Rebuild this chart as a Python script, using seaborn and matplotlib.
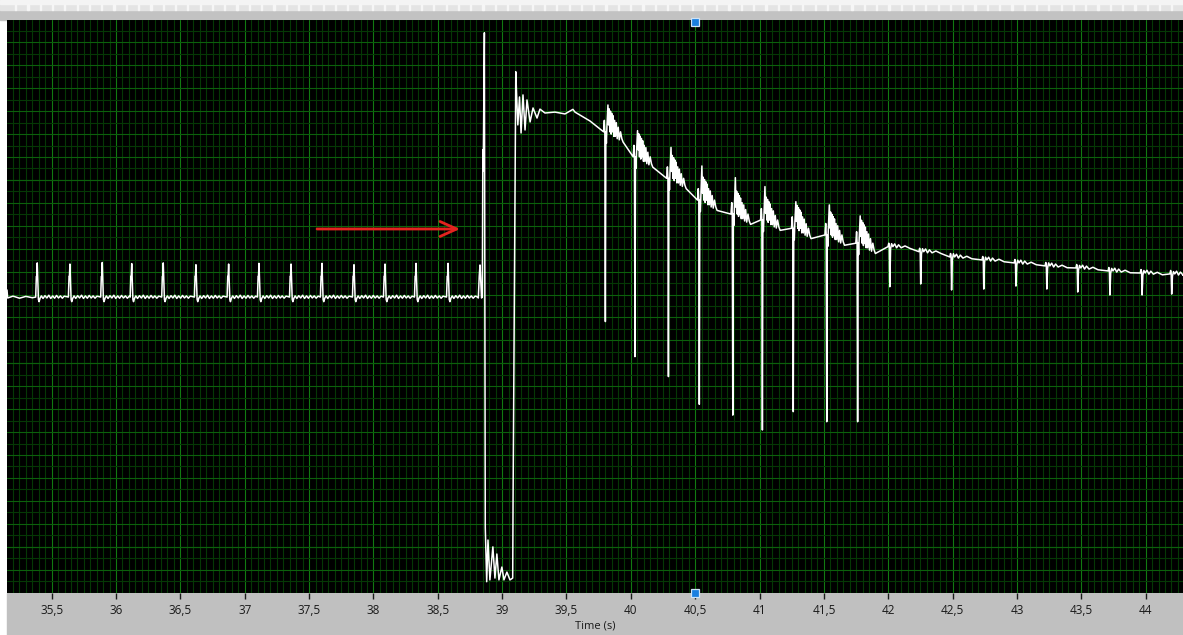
import numpy as np
import pandas as pd
import seaborn as sns
import matplotlib
matplotlib.use("Agg")
import matplotlib.pyplot as plt
from matplotlib.patches import Rectangle
from matplotlib.ticker import MultipleLocator, FixedLocator, FuncFormatter

# ---------------- data ----------------
# start of the trace
start_t = [35.153, 35.158, 35.20, 35.25, 35.30, 35.35]
start_v = [3.20, 2.85, 2.93, 2.84, 2.92, 2.86]

# regular beats before the event
reg_base = 2.89
reg_t = [35.388, 35.642, 35.893, 36.122, 36.367, 36.621, 36.875,
         37.111, 37.360, 37.600, 37.849, 38.090, 38.331, 38.580]
reg_peak = [4.38, 4.33, 4.40, 4.35, 4.38, 4.30, 4.33,
            4.36, 4.33, 4.36, 4.30, 4.33, 4.36, 4.36]
# beat shape (offset in s, value relative to baseline; "P" = peak)
reg_dt = [-0.012, -0.007, -0.004, 0.0, 0.005, 0.009, 0.014, 0.022, 0.032,
          0.045, 0.06, 0.075, 0.09, 0.105, 0.12, 0.135, 0.15, 0.165, 0.18,
          0.195, 0.21]
reg_dv = [0.0, 0.9, 0.9, "P", 0.6, -0.1, -0.2, -0.05, 0.05,
          -0.06, 0.06, -0.04, 0.08, -0.06, 0.05, -0.05, 0.07, -0.04, 0.05,
          -0.05, 0.04]

# the event
event_t = [38.800, 38.815, 38.822, 38.828, 38.834, 38.840, 38.846, 38.850,
           38.853, 38.862, 38.869, 38.880, 38.890, 38.905, 38.928, 38.944,
           38.959, 38.975, 38.998, 39.014, 39.037, 39.061, 39.082, 39.085,
           39.106, 39.114, 39.122, 39.135, 39.147, 39.162, 39.178, 39.193,
           39.217, 39.240, 39.271, 39.294, 39.333, 39.410, 39.488, 39.550,
           39.566, 39.683]
event_v = [2.92, 2.85, 3.80, 4.29, 3.60, 2.85, 2.90, 9.31,
           8.40, 14.42, -7.16, -9.53, -7.71, -9.45, -8.01, -9.37,
           -8.32, -9.45, -8.89, -9.45, -9.11, -9.45, -9.37, -5.88,
           12.72, 11.49, 10.40, 11.62, 10.05, 11.71, 10.18, 11.49,
           10.53, 11.14, 10.70, 11.09, 10.92, 10.96, 10.88, 11.08,
           10.96, 10.57]

# large beats after the event (down spike bottom, up spike top, local baseline)
big_t = [39.80, 40.03, 40.29, 40.53, 40.79, 41.02, 41.26, 41.52, 41.76]
big_bottom = [1.82, 0.29, -0.58, -1.79, -2.26, -2.91, -2.11, -2.55, -2.55]
big_top = [11.27, 10.15, 9.42, 8.61, 8.10, 7.71, 7.05, 6.91, 6.43]
big_base = [10.10, 9.01, 8.07, 7.12, 6.51, 6.25, 5.89, 5.60, 5.24]
big_dt = [-0.012, -0.006, -0.002, 0.002, 0.006, 0.010, 0.014, 0.022, 0.027,
          0.032, 0.037, 0.042, 0.047, 0.052, 0.057, 0.062, 0.068, 0.074,
          0.080, 0.087, 0.094, 0.102, 0.11, 0.12, 0.13, 0.14]
big_dv = [0.0, 0.5, 0.0, "B", 0.0, -0.5, 0.2, "T", 0.3,
          1.0, 0.0, 0.9, -0.1, 0.8, 0.0, 0.7, -0.2, 0.5,
          -0.2, 0.4, -0.3, 0.2, -0.35, 0.0, -0.3, -0.45]

# small beats at the end
small_t = [42.01, 42.25, 42.49, 42.74, 42.99, 43.23, 43.47, 43.72, 43.97, 44.20]
small_bottom = [3.34, 3.46, 3.20, 3.24, 3.37, 3.24, 3.11, 2.98, 2.98, 3.02]
small_top = [5.22, 5.00, 4.78, 4.63, 4.50, 4.38, 4.27, 4.14, 4.05, 4.00]
small_base = [5.09, 4.87, 4.64, 4.51, 4.38, 4.25, 4.16, 4.03, 3.94, 3.90]
small_dt = [-0.012, -0.006, -0.002, 0.002, 0.008, 0.016, 0.026, 0.04,
            0.055, 0.07, 0.09, 0.12, 0.16]
small_dv = [0.0, 0.15, 0.05, "B", -0.1, "T", 0.0, 0.12,
            -0.05, 0.08, -0.05, 0.03, -0.08]

end_t = [44.29]
end_v = [3.85]

tick_values = [35.5, 36, 36.5, 37, 37.5, 38, 38.5, 39, 39.5, 40, 40.5,
               41, 41.5, 42, 42.5, 43, 43.5, 44]
x_label = "Time (s)"
x_range = (35.153, 44.29)
y_range = (-10, 15)

arrow_t_start, arrow_t_end, arrow_y = 37.562, 38.673, 5.86
cursor_t = 40.5

# ---------------- build the trace table ----------------
def beat(t0, base, dts, dvs, bottom=None, top=None, peak=None):
    ts, vs = [], []
    for dt, dv in zip(dts, dvs):
        ts.append(t0 + dt)
        if dv == "B":
            vs.append(bottom)
        elif dv == "T":
            vs.append(top)
        elif dv == "P":
            vs.append(peak)
        else:
            vs.append(base + dv)
    return ts, vs

T, V = list(start_t), list(start_v)
for t0, pk in zip(reg_t, reg_peak):
    a, b = beat(t0, reg_base, reg_dt, reg_dv, peak=pk)
    T += a; V += b
T += event_t; V += event_v
for t0, bo, to, ba in zip(big_t, big_bottom, big_top, big_base):
    a, b = beat(t0, ba, big_dt, big_dv, bottom=bo, top=to)
    T += a; V += b
for t0, bo, to, ba in zip(small_t, small_bottom, small_top, small_base):
    a, b = beat(t0, ba, small_dt, small_dv, bottom=bo, top=to)
    T += a; V += b
T += end_t; V += end_v

df = pd.DataFrame({x_label: T, "signal": V})

# ---------------- figure ----------------
sns.set_theme(style="dark")
plt.rcParams["font.family"] = ["Open Sans", "DejaVu Sans"]

W, H = 1183, 635
fig = plt.figure(figsize=(W / 100, H / 100), dpi=100, facecolor="white")
ax_left, ax_top, ax_bottom = 7, 19.5, 592.5
ax = fig.add_axes([ax_left / W, (H - ax_bottom) / H, 1 - ax_left / W,
                   (ax_bottom - ax_top) / H])
ax.set_facecolor("black")

# window chrome: top bars, bottom panel (drawn behind the axes)
def chrome(x, y, w, h, c, z):
    fig.patches.append(Rectangle((x / W, 1 - (y + h) / H), w / W, h / H,
                                 transform=fig.transFigure, color=c, zorder=z))

chrome(0, 0, W, ax_top, "#c2c2c2", -5)
chrome(0, 4, W, 6, "#e4e4e4", -4)
chrome(0, 0, W, 4, "#f4f4f4", -4)
for xs in np.arange(15, W, 12.3):
    chrome(xs, 4, 1.2, 6, "#f6f6f6", -3)
chrome(ax_left, ax_bottom, W, H - ax_bottom, "#c0c0c0", -5)

ax.set_xlim(*x_range)
ax.set_ylim(*y_range)

# grid
ax.xaxis.set_major_locator(FixedLocator(tick_values))
ax.xaxis.set_minor_locator(MultipleLocator(0.05))
ax.yaxis.set_major_locator(MultipleLocator(1))
ax.yaxis.set_minor_locator(MultipleLocator(0.5))
ax.grid(False)
ax.grid(True, axis="x", which="minor", color="#053805", lw=0.8, zorder=0)
ax.grid(True, axis="y", which="minor", color="#053805", lw=0.8, zorder=0)
ax.grid(True, axis="x", which="major", color="#117a11", lw=0.8, zorder=0)
ax.grid(True, axis="y", which="major", color="#0c600c", lw=0.8, zorder=0)
for yv in (-8, 0, 8):
    ax.axhline(yv, color="#128412", lw=0.8, zorder=0.5)
ax.set_axisbelow(True)

sns.lineplot(data=df, x=x_label, y="signal", sort=False, estimator=None,
             color="white", lw=1.1, ax=ax, zorder=3)

# red arrow
ax.annotate("", xy=(arrow_t_end, arrow_y), xytext=(arrow_t_start, arrow_y),
            arrowprops=dict(arrowstyle="->,head_length=1.0,head_width=0.45",
                            color="#e3231f", lw=2.0, shrinkA=0, shrinkB=0),
            zorder=4)

# cursor markers
for yv in (14.88, -10.0):
    ax.plot([cursor_t], [yv], marker="s", ms=5.2, mfc="#1a7fe0", mec="#cfe3f6",
            mew=0.9, clip_on=False, zorder=6)

# axes decoration
for s in ax.spines.values():
    s.set_visible(False)
ax.xaxis.set_major_formatter(FuncFormatter(lambda x, p: f"{x:g}".replace(".", ",")))
ax.tick_params(axis="x", which="major", direction="out", length=4, width=1,
               color="#1a1a1a", pad=4, labelsize=8.5, labelcolor="#1a1a1a",
               bottom=True, labelbottom=True)
ax.tick_params(axis="x", which="minor", length=0)
ax.tick_params(axis="y", which="both", length=0, labelleft=False)
ax.set_ylabel("")
ax.set_xlabel(x_label, fontsize=8, color="#1a1a1a", labelpad=2.5)

fig.savefig("out.png", dpi=100, facecolor="white")
